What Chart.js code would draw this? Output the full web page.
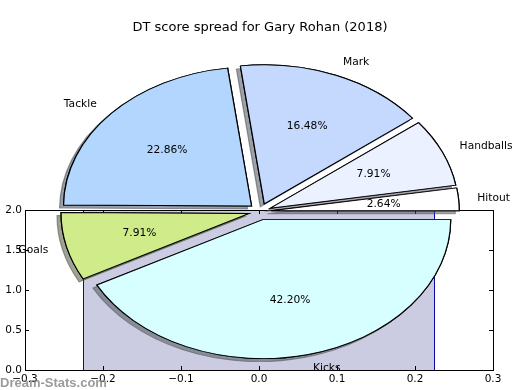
<!DOCTYPE html>
<html>
<head>
<meta charset="utf-8">
<script src="https://cdn.jsdelivr.net/npm/chart.js@4"></script>
<style>
  body { margin: 0; background: #fff; }
  #wrap { position: relative; width: 520px; height: 390px; }
  #wrap canvas { position: absolute; left: 0; top: 0; }
</style>
</head>
<body>
<div id="wrap">
  <canvas id="axesCanvas" width="520" height="390"></canvas>
  <canvas id="pieCanvas" width="520" height="390"></canvas>
</div>
<script>
// pie slices, listed clockwise starting from 3 o'clock
const sliceLabels = ['Kicks', 'Goals', 'Tackle', 'Mark', 'Handballs', 'Hitout'];
const sliceValues = [42.20, 7.91, 22.86, 16.48, 7.91, 2.64];
const sliceColors = ['#d8ffff', '#d0eb8a', '#b3d6ff', '#c5d9ff', '#ebf1ff', '#ffffff'];

// the stray bar behind the pie
const barEdges = [-0.225, 0.225];
const barHeight = 2.0;

const titleText = 'DT score spread for Gary Rohan (2018)';
const watermark = 'Dream-Stats.com';

const SX = 188 / 139;     // pie is stretched sideways
const EXPLODE = 0.06;

function fmtTick(v) {
    if (Math.abs(v) < 1e-9) v = 0;
    return v.toFixed(1).replace('-', '\u2212');
}

function shadowOf(hex) {
    const n = parseInt(hex.slice(1), 16);
    const r = (n >> 16) & 255, g = (n >> 8) & 255, b = n & 255;
    return 'rgba(' + Math.round(r * 0.3) + ',' + Math.round(g * 0.3) + ',' + Math.round(b * 0.3) + ',0.5)';
}

// frame + inward ticks on all four sides
const frameTicks = {
    id: 'frameTicks',
    afterDraw(chart) {
        const { ctx, chartArea: a, scales } = chart;
        ctx.save();
        ctx.strokeStyle = '#000';
        ctx.lineWidth = 1;
        ctx.beginPath();
        scales.x.ticks.forEach(t => {
            const px = Math.round(scales.x.getPixelForValue(t.value)) + 0.5;
            ctx.moveTo(px, a.bottom); ctx.lineTo(px, a.bottom - 4);
            ctx.moveTo(px, a.top); ctx.lineTo(px, a.top + 4);
        });
        scales.y.ticks.forEach(t => {
            const py = Math.round(scales.y.getPixelForValue(t.value)) + 0.5;
            ctx.moveTo(a.left, py); ctx.lineTo(a.left + 4, py);
            ctx.moveTo(a.right, py); ctx.lineTo(a.right - 4, py);
        });
        ctx.stroke();
        ctx.strokeRect(a.left + 0.5, a.top + 0.5, a.width, a.height);
        ctx.restore();
    }
};

const tickFont = { family: 'DejaVu Sans', size: 10.5 };

new Chart(document.getElementById('axesCanvas'), {
    type: 'line',
    data: {
        datasets: [{
            data: [
                { x: barEdges[0], y: 0 },
                { x: barEdges[0], y: barHeight },
                { x: barEdges[1], y: barHeight },
                { x: barEdges[1], y: 0 }
            ],
            fill: 'origin',
            backgroundColor: '#cbcbe2',
            borderColor: '#0a0aa8',
            borderWidth: 1,
            pointRadius: 0,
            tension: 0
        }]
    },
    options: {
        responsive: false,
        animation: false,
        layout: { padding: { top: 210, right: 27, left: 0, bottom: 0 } },
        plugins: { legend: { display: false }, tooltip: { enabled: false } },
        scales: {
            x: {
                type: 'linear', min: -0.3, max: 0.3,
                ticks: { stepSize: 0.1, callback: fmtTick, font: tickFont, color: '#000', padding: 3, maxRotation: 0, autoSkip: false },
                grid: { display: false, drawTicks: false },
                border: { display: false },
                afterFit: s => { s.height = 20; }
            },
            y: {
                min: 0, max: 2,
                ticks: { stepSize: 0.5, callback: fmtTick, font: tickFont, color: '#000', padding: 3 },
                grid: { display: false, drawTicks: false },
                border: { display: false },
                afterFit: s => { s.width = 25; }
            }
        }
    },
    plugins: [frameTicks]
});

function wedgeMid(arc) {
    return (arc.startAngle + arc.endAngle) / 2;
}

function placeWedge(ctx, arc) {
    const mid = wedgeMid(arc);
    const push = EXPLODE * arc.outerRadius;
    ctx.translate(arc.x, arc.y);
    ctx.scale(SX, 1);
    ctx.translate(Math.cos(mid) * push, Math.sin(mid) * push);
    ctx.translate(-arc.x, -arc.y);
}

function wedgePoint(arc, dist) {
    const mid = wedgeMid(arc);
    const r = arc.outerRadius * (EXPLODE + dist);
    return { x: arc.x + SX * Math.cos(mid) * r, y: arc.y + Math.sin(mid) * r, left: Math.cos(mid) < 0 };
}

// exploded, stretched wedges with drop shadows and matplotlib-style labels
const pieLook = {
    id: 'pieLook',
    beforeDatasetsDraw(chart) {
        const ctx = chart.ctx;
        const arcs = chart.getDatasetMeta(0).data;
        ['shadow', 'wedge'].forEach(pass => {
            arcs.forEach((arc, i) => {
                ctx.save();
                placeWedge(ctx, arc);
                if (pass === 'shadow') {
                    ctx.shadowColor = shadowOf(sliceColors[i]);
                    ctx.shadowOffsetX = -4;
                    ctx.shadowOffsetY = 3;
                    ctx.shadowBlur = 0;
                }
                arc.draw(ctx);
                ctx.restore();
            });
        });
        return false;
    },
    afterDraw(chart) {
        const ctx = chart.ctx;
        const arcs = chart.getDatasetMeta(0).data;
        const total = sliceValues.reduce((a, b) => a + b, 0);
        ctx.save();
        ctx.fillStyle = '#000';
        ctx.font = '10.7px "DejaVu Sans"';
        ctx.textBaseline = 'middle';
        arcs.forEach((arc, i) => {
            const lp = wedgePoint(arc, 1.1);
            ctx.textAlign = lp.left ? 'right' : 'left';
            ctx.fillText(sliceLabels[i], lp.x, lp.y);
            const pp = wedgePoint(arc, 0.6);
            ctx.textAlign = 'center';
            ctx.fillText((sliceValues[i] / total * 100).toFixed(2) + '%', pp.x, pp.y);
        });
        ctx.font = 'bold 13px "Liberation Sans"';
        ctx.fillStyle = 'rgba(130,130,130,0.8)';
        ctx.textAlign = 'left';
        ctx.textBaseline = 'alphabetic';
        ctx.fillText(watermark, 0, 387);
        ctx.restore();
    }
};

new Chart(document.getElementById('pieCanvas'), {
    type: 'pie',
    data: {
        labels: sliceLabels,
        datasets: [{
            data: sliceValues,
            backgroundColor: sliceColors,
            borderColor: '#000',
            borderWidth: 0.9,
            borderJoinStyle: 'miter'
        }]
    },
    options: {
        responsive: false,
        animation: false,
        rotation: 90,
        radius: 139,
        layout: { padding: { top: 0, bottom: 2.6, left: 0, right: 0 } },
        plugins: {
            legend: { display: false },
            tooltip: { enabled: false },
            title: {
                display: true,
                text: titleText,
                color: '#000',
                font: { family: 'DejaVu Sans', size: 13, weight: 'normal' },
                padding: { top: 20, bottom: 0 }
            }
        }
    },
    plugins: [pieLook]
});
</script>
</body>
</html>
